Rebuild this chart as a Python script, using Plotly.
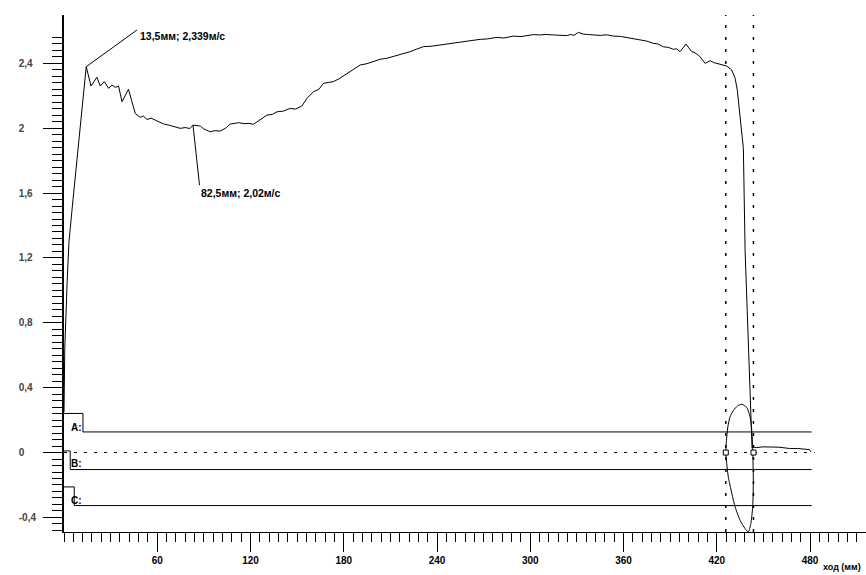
import plotly.graph_objects as go

# ---------------- data ----------------
# main velocity curve (x: mm, y: m/s)
x_curve = [0, 0.5, 2, 3.2, 5.8, 14.3, 17.4, 21.2, 23.3, 25.9, 28.7, 30.9, 33.0, 35.1, 37.3,
           41.5, 43.5, 45.9, 49.1, 51, 53.4, 56, 58.7, 61, 64.1, 67, 70, 74.8, 78, 81, 83.0,
           85, 87.7, 90, 94.1, 97, 100.5, 104, 107, 110, 112.3, 116, 119, 121.9, 126, 130.6,
           134, 137, 141, 145.5, 149, 153.1, 156.3, 160.5, 164, 167, 170, 173.4, 177, 182,
           186, 190.6, 195, 199.1, 203.4, 207.7, 211, 215.2, 219, 222.7, 227, 231.3, 236,
           241, 246.3, 251, 254.9, 259, 263, 267.8, 272, 278.5, 283, 289.2, 294, 298, 302,
           306, 310, 314.9, 319, 323.5, 326, 328, 331, 334, 337, 340.6, 345, 349, 353.5,
           358, 362.1, 366, 370.6, 375, 379.2, 382, 385.6, 389, 392.1, 394, 396.4, 398.5,
           400.2, 402, 403.9, 406, 408.8, 412.5, 414, 415.7, 418, 420, 423, 426.4, 429.6,
           431.8, 433.2, 435, 437.1, 438.2, 440.1, 441.7, 442.7, 443.5, 445.3, 449.4, 455,
           460, 466.7, 472, 477.4, 479.5, 480.6]
y_curve = [0.25, 0.64, 1.05, 1.30, 1.56, 2.379, 2.26, 2.314, 2.26, 2.287, 2.246, 2.266, 2.252,
           2.26, 2.163, 2.24, 2.17, 2.09, 2.067, 2.075, 2.054, 2.062, 2.05, 2.04, 2.026, 2.02,
           2.012, 1.999, 2.004, 1.998, 2.019, 2.016, 2.013, 1.995, 1.978, 1.985, 1.982, 2.0,
           2.026, 2.03, 2.034, 2.028, 2.03, 2.024, 2.05, 2.081, 2.085, 2.101, 2.105, 2.122,
           2.118, 2.137, 2.184, 2.225, 2.24, 2.277, 2.282, 2.287, 2.305, 2.338, 2.36, 2.39,
           2.398, 2.41, 2.425, 2.431, 2.44, 2.451, 2.46, 2.472, 2.488, 2.503, 2.505, 2.512,
           2.519, 2.525, 2.533, 2.535, 2.542, 2.548, 2.55, 2.56, 2.556, 2.568, 2.565, 2.571,
           2.577, 2.575, 2.578, 2.575, 2.574, 2.571, 2.578, 2.572, 2.591, 2.58, 2.578, 2.575,
           2.572, 2.576, 2.568, 2.566, 2.56, 2.552, 2.544, 2.537, 2.523, 2.52, 2.502, 2.498,
           2.486, 2.49, 2.472, 2.50, 2.519, 2.495, 2.472, 2.465, 2.445, 2.40, 2.41, 2.416,
           2.405, 2.40, 2.395, 2.383, 2.359, 2.308, 2.235, 2.071, 1.876, 1.248, 0.755, 0.385,
           0.027, 0.035, 0.03, 0.035, 0.034, 0.033, 0.025, 0.025, 0.02, 0.018, 0.004]

# closed loop (phase trace) near the end of stroke
x_loop = [436.1, 439.3, 441.4, 442.5, 443.1, 443.5, 443.1, 441.9, 440.3, 438.2, 435.0, 431.8,
          429.7, 427.4, 426.4, 425.8, 426.4, 427.1, 428.5, 430.8, 433.4, 436.1]
y_loop = [0.298, 0.278, 0.22, 0.138, 0.014, -0.171, -0.336, -0.438, -0.49, -0.469, -0.418,
          -0.336, -0.253, -0.15, -0.068, 0.0, 0.096, 0.158, 0.22, 0.261, 0.288, 0.298]

# digital channels A, B, C: (start level, step position, end level, end x)
chan_names = ["A:", "B:", "C:"]
chan_high = [0.241, 0.010, -0.212]
chan_low = [0.127, -0.105, -0.327]
chan_step = [12.2, 4.0, 6.6]
chan_end = 481.0
chan_label_y = [0.154, -0.068, -0.294]

# cursors
cursor_x = [425.8, 443.6]
cursor_y = [0.0, 0.0]
zero_line_end = 483.0

# annotations: point on curve, leader end, text
ann_text = ["13,5мм; 2,339м/с", "82,5мм; 2,02м/с"]
ann_px = [14.3, 83.0]
ann_py = [2.379, 2.019]
ann_lx = [47.0, 87.2]
ann_ly = [2.606, 1.649]
ann_tx = [47.8, 86.6]
ann_ty = [2.569, 1.598]

# axes
x_major = [60, 120, 180, 240, 300, 360, 420, 480]
x_major_text = ["60", "120", "180", "240", "300", "360", "420", "480"]
x_minor = [i * 6 for i in range(0, 87)]
y_major = [-0.4, 0, 0.4, 0.8, 1.2, 1.6, 2, 2.4]
y_major_text = ["-0,4", "0", "0,4", "0,8", "1,2", "1,6", "2", "2,4"]
y_minor = [round(-0.48 + 0.04 * i, 2) for i in range(0, 77)]
x_title = "ход (мм)"

# ---------------- figure ----------------
fig = go.Figure()

fig.add_trace(go.Scatter(x=x_curve, y=y_curve, mode="lines",
                         line=dict(color="black", width=1), hoverinfo="skip"))
fig.add_trace(go.Scatter(x=x_loop, y=y_loop, mode="lines",
                         line=dict(color="black", width=1, shape="spline", smoothing=0.6),
                         hoverinfo="skip"))

for hi, lo, st in zip(chan_high, chan_low, chan_step):
    fig.add_trace(go.Scatter(x=[0, st, st, chan_end], y=[hi, hi, lo, lo], mode="lines",
                             line=dict(color="black", width=1), hoverinfo="skip"))

fig.add_trace(go.Scatter(x=cursor_x, y=cursor_y, mode="markers",
                         marker=dict(symbol="square", size=5, color="white",
                                     line=dict(color="black", width=1)),
                         hoverinfo="skip"))

shapes = []
shapes.append(dict(type="line", xref="x", yref="y", x0=0, x1=zero_line_end, y0=0, y1=0,
                   line=dict(color="black", width=1, dash="3px,7px"), layer="below"))
for cx in cursor_x:
    shapes.append(dict(type="line", xref="x", yref="paper", x0=cx, x1=cx, y0=0, y1=1,
                       line=dict(color="black", width=1.5, dash="3px,9px")))
for px, py, lx, ly in zip(ann_px, ann_py, ann_lx, ann_ly):
    shapes.append(dict(type="line", xref="x", yref="y", x0=px, y0=py, x1=lx, y1=ly,
                       line=dict(color="black", width=1)))

annotations = []
for t, tx, ty in zip(ann_text, ann_tx, ann_ty):
    annotations.append(dict(x=tx, y=ty, xref="x", yref="y", text=t, showarrow=False,
                            xanchor="left", yanchor="middle",
                            font=dict(family="Liberation Sans", size=10.5, color="black",
                                      weight="bold")))
for name, ly in zip(chan_names, chan_label_y):
    annotations.append(dict(x=3.0, y=ly, xref="x", yref="y", text=name, showarrow=False,
                            xanchor="left", yanchor="middle",
                            font=dict(family="Liberation Sans", size=10, color="black",
                                      weight="bold")))
annotations.append(dict(x=0.944, y=-0.0812, xref="paper", yref="paper", text=x_title,
                        showarrow=False, xanchor="left", yanchor="bottom",
                        font=dict(family="Liberation Sans", size=9, color="black",
                                  weight="bold")))

fig.update_layout(
    width=866, height=575,
    margin=dict(l=64, r=0, t=15, b=43, pad=0),
    plot_bgcolor="white", paper_bgcolor="white",
    showlegend=False,
    font=dict(family="Liberation Sans", size=11, color="black"),
    shapes=shapes, annotations=annotations,
    xaxis=dict(range=[0, 516], showgrid=False, zeroline=False, showline=True,
               linecolor="black", linewidth=1, ticks="outside", ticklen=19,
               tickwidth=1, tickcolor="black", tickmode="array", tickvals=x_major,
               ticktext=x_major_text, automargin=False,
               tickfont=dict(family="Liberation Sans", size=10, weight="bold"),
               minor=dict(tickmode="array", tickvals=x_minor, ticks="outside",
                          ticklen=9, tickwidth=1, tickcolor="black", showgrid=False)),
    yaxis=dict(range=[-0.49, 2.698], showgrid=False, zeroline=False, showline=True,
               linecolor="black", linewidth=1.5, ticks="outside", ticklen=19,
               tickwidth=1, tickcolor="black", tickmode="array", tickvals=y_major,
               ticktext=y_major_text, automargin=False,
               ticklabelposition="inside", ticklabelstandoff=-46,
               tickfont=dict(family="Liberation Sans", size=10, weight="bold"),
               minor=dict(tickmode="array", tickvals=y_minor, ticks="outside",
                          ticklen=10, tickwidth=1, tickcolor="black", showgrid=False)),
)

fig.write_html("out.html")
